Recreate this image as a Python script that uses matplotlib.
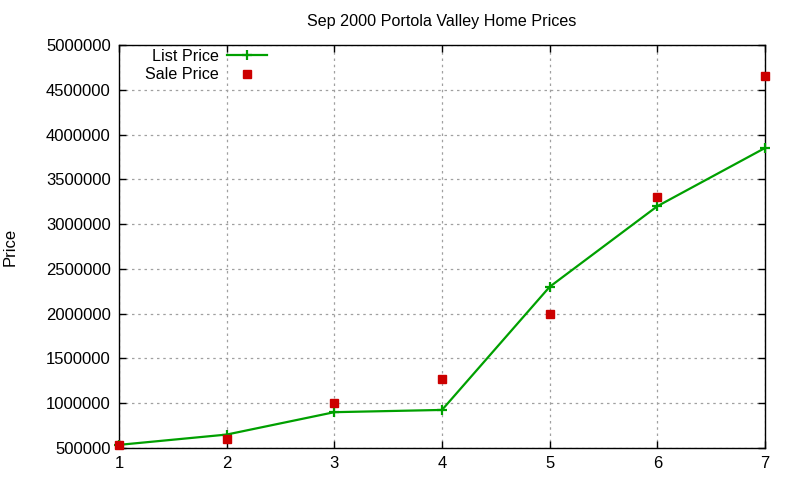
import matplotlib
matplotlib.use("Agg")
import matplotlib.pyplot as plt

houses = [1, 2, 3, 4, 5, 6, 7]
list_price = [535000, 650000, 900000, 925000, 2300000, 3200000, 3850000]
sale_price = [535000, 600000, 1000000, 1270000, 2000000, 3300000, 4650000]
yticks = [500000, 1000000, 1500000, 2000000, 2500000, 3000000, 3500000, 4000000, 4500000, 5000000]

plt.rcParams['font.family'] = ['Liberation Sans', 'DejaVu Sans']

fig = plt.figure(figsize=(8, 4.8), dpi=100)
ax = fig.add_axes([119/800, 1-448/480, (765-119)/800, (448-45)/480])

ax.plot(houses, list_price, color='#00a000', lw=1.6, marker='+', ms=7, mew=1.6,
        label='List Price', clip_on=False, zorder=3)
ax.plot(houses, sale_price, ls='none', marker='s', ms=6, color='#cc0000',
        label='Sale Price', clip_on=False, zorder=4)

ax.set_xlim(1, 7)
ax.set_ylim(500000, 5000000)
ax.set_xticks(houses)
ax.set_yticks(yticks)
ax.set_yticklabels([str(v) for v in yticks])
ax.tick_params(direction='in', top=True, right=True, labelsize=12, length=5, width=1, pad=6)
ax.grid(True, color='#a0a0a0', ls=(0, (2, 3)), lw=0.9)
ax.set_axisbelow(True)
for s in ax.spines.values():
    s.set_linewidth(1.0)

ax.set_title('Sep 2000 Portola Valley Home Prices', fontsize=11.6, pad=13.5)
ax.set_ylabel('Price', fontsize=12, labelpad=20)

ax.legend(loc='upper right', markerfirst=False, frameon=False, fontsize=11.6,
          handlelength=2.5, borderaxespad=0.0, borderpad=0.0, labelspacing=0.2,
          bbox_to_anchor=((267-119)/646, (448-49)/403), handletextpad=0.5)

fig.savefig('out.png', dpi=100)
